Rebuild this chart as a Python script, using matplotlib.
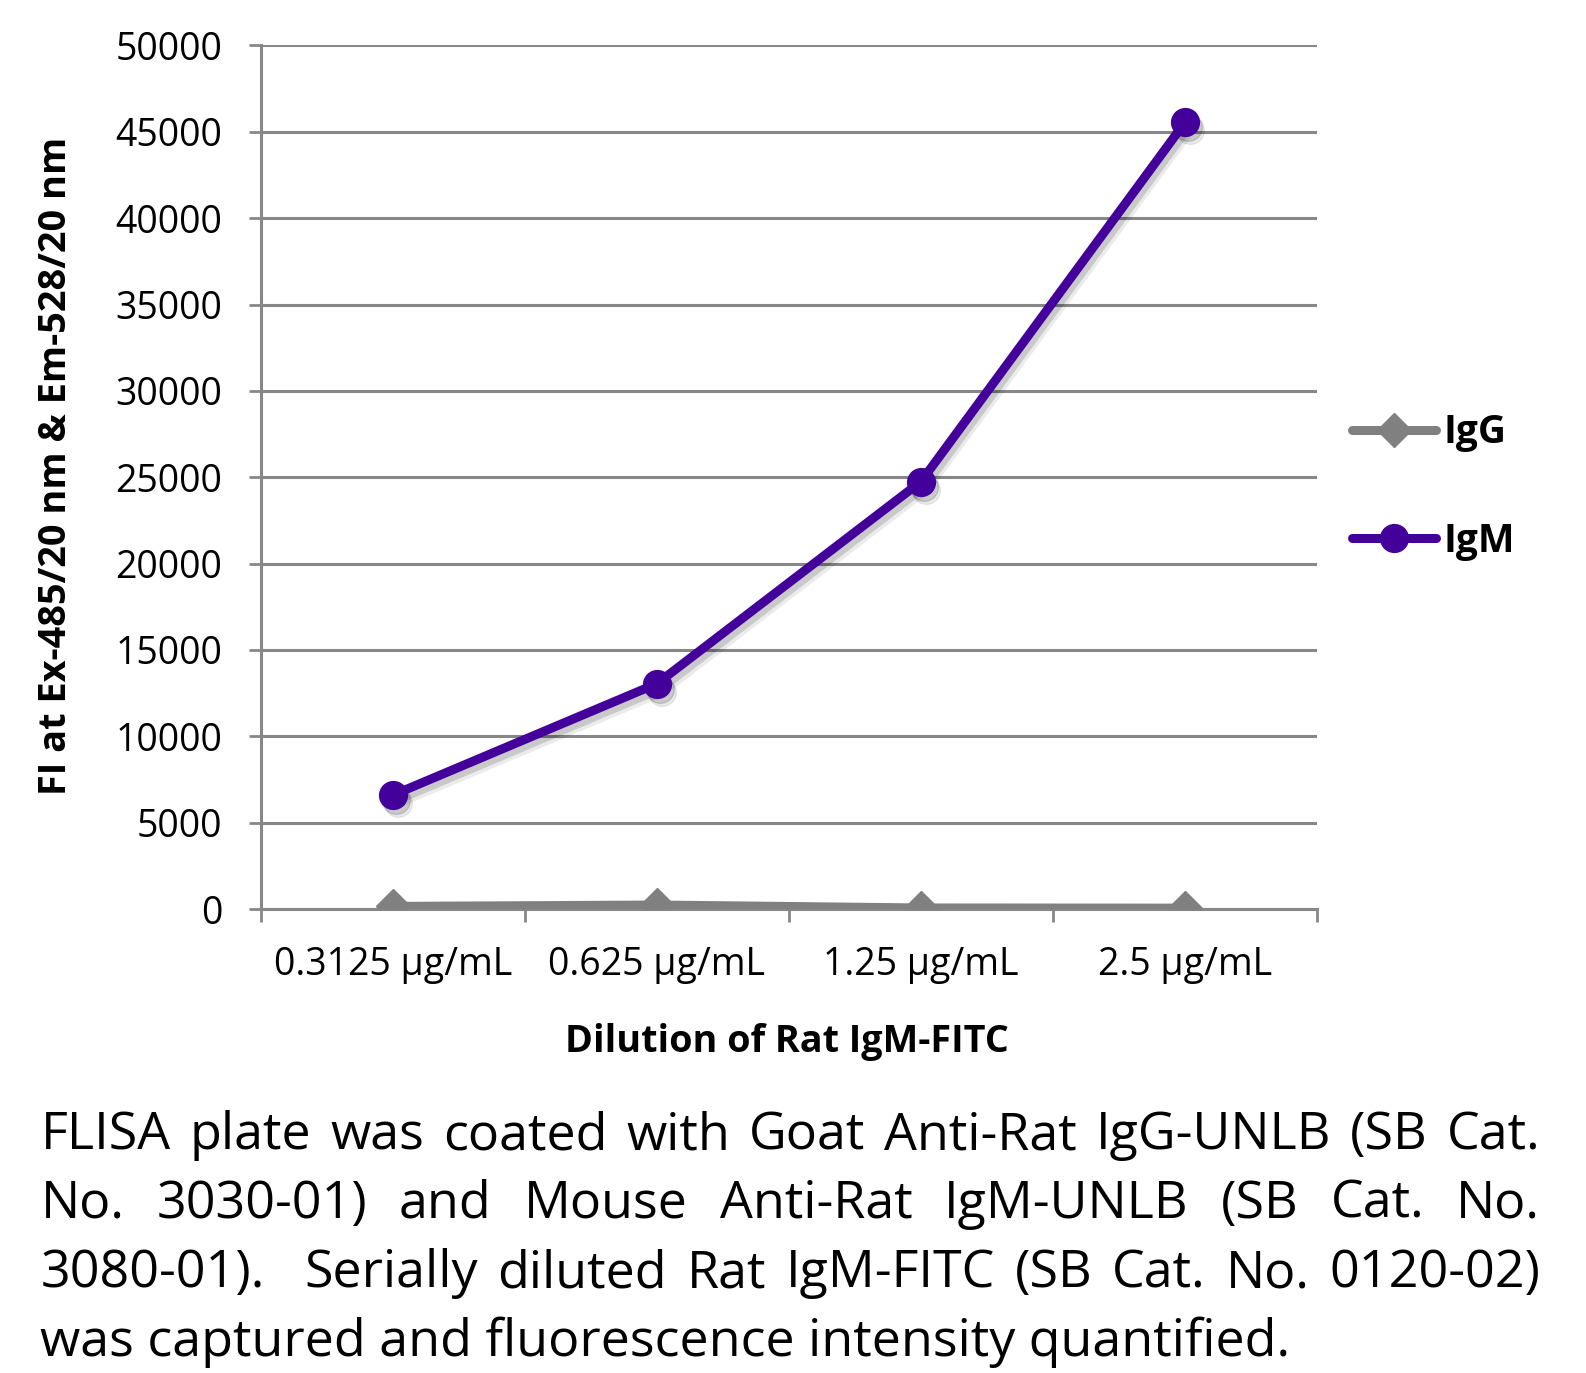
"""FLISA dilution curve: fluorescence of captured Rat IgM-FITC on IgG / IgM coated plates."""
import matplotlib
matplotlib.use("Agg")
import matplotlib.pyplot as plt
from matplotlib.transforms import offset_copy

plt.rcParams["font.family"] = ["Open Sans", "DejaVu Sans"]

DILUTIONS = ["0.3125 \u00b5g/mL", "0.625 \u00b5g/mL", "1.25 \u00b5g/mL", "2.5 \u00b5g/mL"]
IGG = [150, 230, 60, 50]
IGM = [6600, 13050, 24750, 45550]
SERIES = ["IgG", "IgM"]

CAPTION = [
    "FLISA plate was coated with Goat Anti-Rat IgG-UNLB (SB Cat.",
    "No. 3030-01) and Mouse Anti-Rat IgM-UNLB (SB Cat. No.",
    "3080-01).  Serially diluted Rat IgM-FITC (SB Cat. No. 0120-02)",
    "was captured and fluorescence intensity quantified.",
]

GRID = "#878787"
GRAY = "#808080"
PURPLE = "#43009a"

W, H = 1586, 1373


def main():
    fig = plt.figure(figsize=(W / 100, H / 100), dpi=100)
    ax = fig.add_axes([261 / W, 1 - 909 / H, (1317 - 261) / W, (909 - 45.5) / H])

    xs = list(range(len(DILUTIONS)))
    ax.set_xlim(-0.5, len(DILUTIONS) - 0.5)
    ax.set_ylim(0, 50000)
    ax.set_yticks(range(0, 50001, 5000))
    ax.set_xticks(xs)
    ax.set_xticklabels(DILUTIONS)
    ax.set_xticks([x - 0.5 for x in range(len(DILUTIONS) + 1)], minor=True)

    ax.set_axisbelow(True)
    ax.yaxis.grid(True, color=GRID, lw=2.2)
    for s in ("top", "right"):
        ax.spines[s].set_visible(False)
    for s in ("left", "bottom"):
        ax.spines[s].set_color(GRID)
        ax.spines[s].set_linewidth(2.2)
    ax.tick_params(axis="y", length=9, width=2, color=GRID, pad=19, labelsize=27)
    ax.tick_params(axis="x", which="major", length=0, pad=27, labelsize=27)
    ax.tick_params(axis="x", which="minor", length=9.5, width=2, color=GRID)

    # soft drop shadow under both series (two offset passes to blur it a bit)
    for dx, dy, a in ((3, -5, 0.14), (5, -8, 0.08)):
        shadow = offset_copy(ax.transData, fig=fig, x=dx, y=dy, units="dots")
        for ys, marker, ms in ((IGG, "D", 17), (IGM, "o", 20)):
            ax.plot(xs, ys, color="black", alpha=a, lw=7, marker=marker, ms=ms,
                    transform=shadow, solid_capstyle="round", zorder=2)

    ax.plot(xs, IGG, color=GRAY, lw=6.5, marker="D", ms=17, label=SERIES[0],
            solid_capstyle="round", zorder=3)
    ax.plot(xs, IGM, color=PURPLE, lw=6.5, marker="o", ms=20, label=SERIES[1],
            solid_capstyle="round", zorder=4)

    fig.legend(loc="center left", bbox_to_anchor=(1352 / W, 1 - 487 / H),
               frameon=False, borderpad=0, borderaxespad=0, numpoints=1,
               handlelength=2.15, handletextpad=0.2, labelspacing=1.78,
               prop={"size": 28, "weight": "bold"})

    fig.text(56 / W, 1 - 466 / H, "FI at Ex-485/20 nm & Em-528/20 nm",
             rotation=90, ha="center", va="center", fontsize=27.3, weight="bold")
    fig.text(787 / W, 1 - 1042 / H, "Dilution of Rat IgM-FITC",
             ha="center", va="center", fontsize=27.2, weight="bold")

    # justified caption, placed word by word
    renderer = fig.canvas.get_renderer()

    def width(s, size):
        t = fig.text(0, 0, s, fontsize=size)
        w = t.get_window_extent(renderer).width
        t.remove()
        return w

    size = 40 * 1247 / width(CAPTION[-1], 40)
    left, right = 40.5, 1540
    baselines = [1149, 1218, 1287, 1356]
    for i, line in enumerate(CAPTION):
        words = line.split(" ")
        if i == len(CAPTION) - 1:
            fig.text(left / W, 1 - baselines[i] / H, line, fontsize=size, va="baseline")
            continue
        widths = [width(w, size) if w else 0 for w in words]
        gap = (right - left - sum(widths)) / (len(words) - 1)
        x = left
        for w, ww in zip(words, widths):
            if w:
                fig.text(x / W, 1 - baselines[i] / H, w, fontsize=size, va="baseline")
            x += ww + gap

    fig.savefig("out.png", dpi=100)


if __name__ == "__main__":
    main()
